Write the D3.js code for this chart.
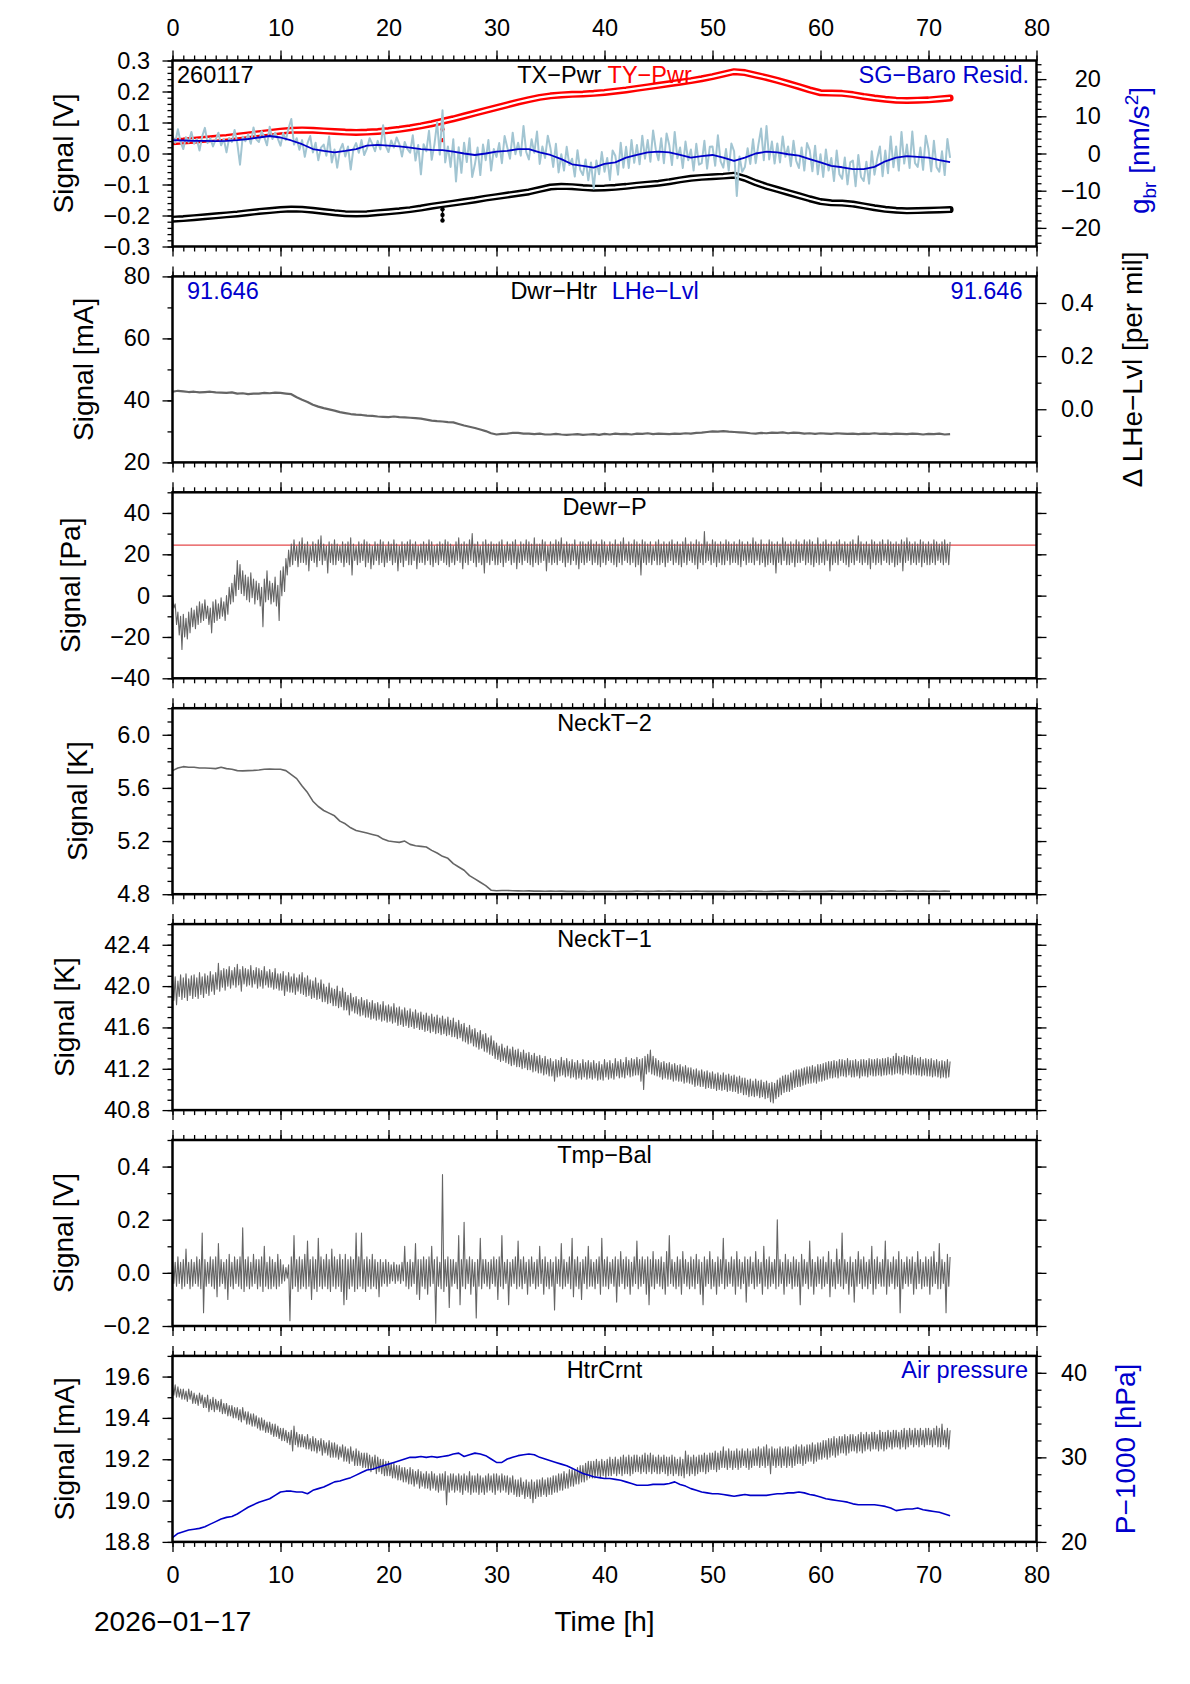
<!DOCTYPE html>
<html><head><meta charset="utf-8">
<script src="https://cdn.jsdelivr.net/npm/d3@7"></script>
<style>
html,body{margin:0;padding:0;background:#fff;}
svg{display:block;font-family:"Liberation Sans",Arial,Helvetica,sans-serif;}
</style></head><body>
<svg id="chart" width="1190" height="1684"></svg>
<script>
// ---------------- DATA ----------------
// time grids (hours): hourly, half-hourly and quarter-hourly samples, 0 .. 72 h
const hours1 = d3.range(0, 72.001, 1);
const hours2 = d3.range(0, 72.001, 0.5);
const hours4 = d3.range(0, 72.001, 0.25);
const xTicks = [0,10,20,30,40,50,60,70,80];

// Panel 1 : TX-Pwr, TY-Pwr [V] (hourly), SG-Baro residual [nm/s^2]
const tyPwr = [0.038,0.040,0.043,0.046,0.049,0.052,0.056,0.060,0.064,0.068,
0.072,0.075,0.076,0.075,0.073,0.071,0.069,0.068,0.069,0.071,
0.074,0.078,0.083,0.089,0.096,0.104,0.112,0.121,0.130,0.139,
0.148,0.157,0.166,0.174,0.181,0.186,0.189,0.191,0.192,0.194,
0.197,0.201,0.205,0.210,0.215,0.220,0.225,0.230,0.235,0.241,
0.248,0.256,0.264,0.261,0.253,0.245,0.236,0.226,0.216,0.205,
0.196,0.195,0.194,0.190,0.184,0.179,0.175,0.172,0.171,0.172,
0.173,0.176,0.179];
const txPwr = [-0.212,-0.210,-0.207,-0.204,-0.201,-0.198,-0.195,-0.191,-0.187,-0.184,
-0.181,-0.179,-0.180,-0.183,-0.187,-0.191,-0.194,-0.195,-0.194,-0.191,
-0.188,-0.185,-0.181,-0.176,-0.170,-0.165,-0.160,-0.155,-0.150,-0.144,
-0.139,-0.134,-0.129,-0.124,-0.116,-0.108,-0.106,-0.107,-0.110,-0.112,
-0.111,-0.109,-0.106,-0.102,-0.099,-0.096,-0.091,-0.085,-0.080,-0.077,
-0.075,-0.073,-0.070,-0.080,-0.094,-0.106,-0.116,-0.126,-0.136,-0.146,
-0.155,-0.159,-0.160,-0.163,-0.169,-0.175,-0.180,-0.183,-0.185,-0.184,
-0.183,-0.182,-0.181];
const tyOutT = [25, 25], tyOutV = [0.078, 0.043];
const txOutT = [25, 25, 25, 25], txOutV = [-0.166, -0.180, -0.198, -0.216];
const sgSmooth = [3.6,3.5,3.4,3.4,3.3,3.4,3.6,3.9,4.3,4.7,
4.3,3.5,2.5,1.2,0.7,0.3,0.7,1.2,2.1,2.3,
2.1,1.9,1.6,1.2,1.0,0.9,0.5,0.0,-0.4,0.0,
0.5,0.7,1.2,1.2,0.3,-0.4,-1.5,-2.9,-3.3,-3.8,
-2.8,-2.4,-1.1,-0.4,0.3,0.5,0.3,-0.4,-1.1,-0.7,
-0.4,-1.1,-2.0,-1.1,0.0,0.5,0.3,-0.2,-0.6,-1.5,
-2.4,-3.3,-3.7,-4.2,-4.2,-3.6,-2.1,-1.1,-0.7,-0.9,
-1.1,-1.8,-2.3];
const sgRaw = [
4.8,2.9,6.5,3.1, 1.2,4.4,3.0,5.8, 2.6,3.9,0.8,4.6, 6.9,2.8,4.1,1.9, 3.7,5.6,2.2,3.9,
0.3,4.2,3.1,6.3, 2.7,-3.0,4.5,3.3, 5.1,2.6,7.0,3.8, 3.1,6.0,4.4,2.2, 7.2,3.9,5.6,4.0,
2.1,5.5,3.6,6.8, 9.3,2.4,4.1,1.0, 3.6,-0.9,2.8,4.7, 0.3,2.9,-1.8,1.6, 2.4,-0.6,4.6,-2.4,
1.1,-3.8,0.9,2.6, -0.8,1.9,-4.3,1.2, 2.8,0.2,3.6,-0.4, 1.3,4.1,2.6,0.6, 3.4,1.1,7.6,2.0,
0.4,3.5,1.6,4.3, 2.6,-0.8,3.1,1.2, 0.2,4.9,-1.9,2.3, -5.6,2.5,0.6,6.1, -1.7,2.4,8.4,-0.3,
11.6,-2.4,1.9,-3.6, 3.8,-7.5,1.7,-5.2, 2.9,-2.3,4.1,-6.3, -2.9,1.6,-5.8,2.4, -1.8,3.6,-4.6,1.2,
-0.9,2.8,-2.6,4.7, 1.6,-1.4,5.6,-0.2, 2.9,-0.6,7.4,0.4, -1.6,3.8,0.2,5.9, -2.8,1.9,-1.2,4.8,
1.4,-3.6,2.6,-5.1, -0.2,-4.6,1.8,-3.1, -1.4,-6.2,0.9,-4.4, -5.8,-1.6,-7.2,-2.4, -9.4,-1.9,-5.6,0.4,
-4.9,-1.2,-7.1,0.8, -0.6,-5.7,2.9,-3.8, 1.8,-3.9,3.6,-2.5, 2.3,-2.9,4.8,-1.4, 3.6,-2.2,6.2,1.1,
-1.8,4.1,-2.6,5.4, 2.2,-3.1,5.8,-1.3, 1.6,-3.9,3.2,-1.8, 1.1,-4.6,2.6,-3.0, -2.6,3.4,-4.1,1.8,
1.9,-3.3,4.9,-2.1, -3.8,1.2,-4.6,2.7, 0.6,-11.4,-0.8,-4.9, -3.6,1.4,-2.8,3.8, -2.6,2.4,6.7,-1.8,
7.4,-1.6,3.2,-2.7, 2.7,-2.4,4.6,-0.9, 1.9,-3.4,3.4,-2.0, -3.9,1.6,-4.6,2.8, 0.9,-4.8,2.1,-5.6,
-0.2,-6.3,1.1,-4.6, -1.2,-7.4,0.8,-5.6, -6.8,-1.1,-8.3,-2.4, -1.9,-8.8,-0.4,-6.3, -7.4,-2.2,-8.1,0.6,
-5.7,-1.4,1.9,-6.1, 0.8,-5.3,4.6,-3.7, 1.9,-4.6,5.8,-2.7, 2.4,-3.9,5.9,-2.6, -3.6,1.6,-4.4,4.8,
1.2,-4.8,3.4,-3.7, -4.9,0.6,-5.8,3.9, -1.2];

// Panel 2 : Dwr-Htr [mA] (half-hourly)
const dwrHtr = [42.8,43.1,42.9,42.7, 42.8,42.6,42.7,42.8, 42.6,42.5,42.4,42.6, 42.2,42.3,42.0,42.2,
42.2,42.4,42.3,42.5, 42.4,42.2,42.0,41.0, 40.2,39.5,38.6,38.0, 37.5,37.1,36.7,36.2,
35.9,35.6,35.4,35.3, 35.1,35.0,34.8,34.7, 34.6,34.8,34.6,34.5, 34.4,34.3,34.1,33.8,
33.5,33.3,33.2,33.0, 32.9,32.4,31.9,31.5, 31.1,30.6,30.1,29.4, 29.0,29.2,29.3,29.5,
29.5,29.3,29.3,29.1, 29.3,29.0,29.0,29.2, 29.0,28.9,29.0,29.1, 28.9,29.0,29.1,28.9,
29.2,29.0,29.3,29.1, 29.2,29.0,29.3,29.2, 29.4,29.1,29.3,29.2, 29.1,29.3,29.2,29.4,
29.3,29.5,29.6,29.8, 30.0,29.9,30.1,29.9, 29.8,29.7,29.6,29.4, 29.3,29.5,29.4,29.6,
29.5,29.7,29.4,29.6, 29.5,29.3,29.4,29.2, 29.4,29.3,29.2,29.4, 29.3,29.2,29.3,29.1,
29.3,29.2,29.4,29.2, 29.3,29.1,29.3,29.2, 29.1,29.3,29.2,29.0, 29.2,29.1,29.3,29.0, 29.1];

// Dense, noisy records are given as upper / lower swing per quarter hour
// (upper value at t, lower value at t + 0.125 h).
// Panel 3 : Dewr-P [Pa] and reference level
const dewrRef = 24.4;
const dewrHi = [
0,-4,-8,-10, -9,-11,-8,-6, -7,-5,-3,-4, -2,-5,-6,-3, -2,-4,-1,-3, 0,4,6,10, 17,15,12,10, 9,11,8,7, 6,4,8,12, 7,6,9,5,
12,14,18,22, 25,27,24,26, 28,25,26,24, 26,25,27,29, 25,24,26,25, 27,25,24,26, 25,26,28,25, 24,26,25,27, 26,25,24,26, 25,27,26,24,
26,25,27,25, 24,26,25,26, 27,25,26,24, 25,26,25,27, 26,24,25,26, 25,27,26,25, 24,26,28,25, 26,25,27,30, 25,26,24,26, 27,25,26,25,
25,26,27,24, 26,25,26,27, 24,26,25,27, 26,25,28,25, 25,27,26,24, 26,25,27,26, 28,25,26,25, 25,27,24,26, 26,25,26,27, 25,26,25,27,
26,24,26,25, 27,25,26,28, 25,26,25,27, 26,25,27,26, 25,26,24,26, 27,25,26,25, 26,27,25,26, 25,26,28,25, 26,25,27,26, 25,31,26,25,
27,26,25,26, 25,27,26,25, 26,25,27,26, 25,26,25,28, 26,25,27,25, 25,27,26,25, 26,25,28,26, 25,26,25,27, 26,25,27,26, 27,26,25,28,
25,26,27,25, 26,25,26,27, 25,26,25,26, 27,25,29,26, 25,26,25,27, 26,25,26,27, 25,27,26,25, 26,25,27,26, 28,26,25,26, 25,27,26,25,
26,25,27,26, 25,26,27,25, 26];
const dewrLo = [
-6,-14,-19,-26, -20,-21,-18,-15, -16,-14,-13,-12, -11,-14,-18,-13, -12,-11,-10,-12, -9,-4,-3,0, 3,1,0,-2, -3,-1,-4,-2, -5,-15,-3,-2, -4,-3,-5,-12,
0,2,10,14, 15,17,14,16, 16,15,12,17, 16,14,17,15, 17,11,16,15, 15,17,16,14, 16,15,10,17, 15,16,17,14, 16,13,15,17, 15,16,14,16,
17,15,16,12, 16,14,17,15, 15,17,13,16, 16,15,17,15, 14,16,15,17, 16,15,14,16, 15,17,16,13, 16,15,17,16, 14,16,15,11, 16,15,17,15,
15,16,14,16, 17,15,16,13, 16,15,17,16, 15,14,16,15, 16,17,12,16, 15,16,15,17, 16,14,16,15, 17,15,13,16, 15,16,17,15, 16,15,14,16,
15,17,16,15, 14,16,15,17, 16,15,16,14, 15,10,16,15, 16,15,17,15, 15,16,14,16, 17,15,16,15, 14,16,15,17, 16,15,13,16, 15,16,17,15,
16,14,16,15, 15,17,15,16, 16,15,14,17, 15,16,16,15, 17,15,16,14, 15,16,15,11, 16,15,17,15, 15,16,14,16, 16,17,15,16, 15,14,16,15,
16,15,17,12, 15,16,15,17, 16,15,14,16, 15,17,16,15, 16,15,13,16, 15,16,15,17, 16,15,16,14, 15,16,12,16, 17,15,16,15, 16,14,16,15,
15,16,15,17, 16,15,16,15];

// Panel 4 : NeckT-2 [K] (half-hourly)
const neckT2 = [5.730,5.750,5.760,5.755, 5.755,5.750,5.750,5.748, 5.745,5.755,5.745,5.740, 5.730,5.728,5.730,5.732,
5.735,5.740,5.742,5.740, 5.740,5.730,5.700,5.670, 5.615,5.565,5.500,5.460, 5.430,5.410,5.390,5.350,
5.330,5.300,5.280,5.270, 5.260,5.250,5.240,5.215, 5.200,5.195,5.190,5.200, 5.175,5.165,5.160,5.155,
5.130,5.110,5.085,5.070, 5.030,5.005,4.980,4.940, 4.915,4.890,4.865,4.830, 4.826,4.828,4.828,4.826,
4.825,4.824,4.825,4.823, 4.824,4.822,4.823,4.822, 4.823,4.821,4.822,4.821, 4.822,4.820,4.821,4.822,
4.821,4.822,4.820,4.821, 4.822,4.821,4.823,4.822, 4.821,4.822,4.824,4.822, 4.823,4.822,4.821,4.822,
4.822,4.823,4.822,4.821, 4.822,4.821,4.822,4.820, 4.821,4.822,4.821,4.823, 4.822,4.821,4.820,4.821,
4.822,4.823,4.822,4.821, 4.820,4.821,4.822,4.821, 4.822,4.821,4.823,4.822, 4.821,4.822,4.821,4.822,
4.823,4.822,4.824,4.822, 4.823,4.825,4.823,4.822, 4.824,4.823,4.822,4.823, 4.822,4.823,4.822,4.823, 4.822];

// Panel 5 : NeckT-1 [K]
const neckHi = [
42.06,42.09,42.05,42.11, 42.08,42.12,42.07,42.10, 42.11,42.08,42.13,42.09, 42.12,42.10,42.14,42.11, 42.13,42.22,42.15,42.17,
42.16,42.19,42.15,42.18, 42.21,42.16,42.19,42.17, 42.16,42.20,42.15,42.18, 42.17,42.15,42.19,42.14, 42.16,42.13,42.17,42.12,
42.12,42.14,42.10,42.13, 42.09,42.12,42.08,42.11, 42.13,42.08,42.10,42.06, 42.05,42.08,42.03,42.06, 42.02,41.99,42.03,41.98,
41.97,42.00,41.95,41.98, 41.94,41.91,41.93,41.89, 41.90,41.87,41.89,41.86, 41.87,41.84,41.86,41.83, 41.84,41.82,41.85,41.81,
41.82,41.80,41.83,41.79, 41.80,41.77,41.79,41.76, 41.78,41.75,41.77,41.74, 41.75,41.72,41.74,41.71, 41.73,41.70,41.72,41.69,
41.71,41.68,41.70,41.67, 41.69,41.65,41.67,41.63, 41.64,41.60,41.62,41.58, 41.59,41.55,41.57,41.53, 41.54,41.50,41.52,41.47,
41.45,41.42,41.44,41.40, 41.42,41.39,41.41,41.38, 41.39,41.36,41.38,41.35, 41.36,41.33,41.35,41.32, 41.33,41.30,41.32,41.29,
41.30,41.27,41.29,41.28, 41.31,41.28,41.30,41.27, 41.29,41.26,41.28,41.25, 41.29,41.26,41.28,41.26, 41.28,41.25,41.27,41.24,
41.29,41.26,41.28,41.25, 41.30,41.27,41.29,41.26, 41.31,41.28,41.30,41.29, 41.31,41.29,41.30,41.32, 41.34,41.38,41.32,41.30,
41.28,41.26,41.27,41.25, 41.26,41.24,41.25,41.23, 41.24,41.22,41.23,41.21, 41.21,41.19,41.20,41.18, 41.19,41.17,41.18,41.16,
41.17,41.15,41.16,41.14, 41.16,41.14,41.15,41.13, 41.14,41.12,41.13,41.11, 41.11,41.09,41.10,41.08, 41.10,41.08,41.09,41.07,
41.08,41.06,41.07,41.06, 41.09,41.11,41.13,41.14, 41.14,41.16,41.18,41.19, 41.19,41.20,41.21,41.22, 41.22,41.23,41.22,41.24,
41.24,41.25,41.26,41.27, 41.27,41.28,41.27,41.29, 41.29,41.28,41.30,41.28, 41.28,41.29,41.27,41.29, 41.29,41.28,41.30,41.29,
41.29,41.30,41.29,41.30, 41.30,41.31,41.30,41.32, 41.35,41.32,41.31,41.33, 41.32,41.31,41.33,41.31, 41.30,41.31,41.29,41.30,
41.29,41.30,41.28,41.29, 41.27,41.28,41.27,41.29, 41.27];
const neckLo = [
41.86,41.82,41.90,41.87, 41.89,41.86,41.91,41.88, 41.90,41.88,41.92,41.89, 41.93,41.91,41.95,41.92, 41.97,41.95,41.99,41.96,
42.00,41.98,42.01,41.99, 42.01,41.95,42.02,42.00, 42.01,41.99,42.02,41.98, 42.00,41.98,42.01,41.99, 41.99,41.97,41.98,41.96,
41.96,41.91,41.95,41.94, 41.94,41.92,41.95,41.93, 41.92,41.90,41.91,41.88, 41.89,41.87,41.88,41.85, 41.85,41.83,41.84,41.81,
41.81,41.79,41.80,41.77, 41.77,41.72,41.76,41.74, 41.73,41.71,41.72,41.70, 41.70,41.68,41.69,41.67, 41.68,41.66,41.67,41.65,
41.66,41.64,41.65,41.62, 41.63,41.61,41.62,41.60, 41.61,41.59,41.60,41.58, 41.58,41.56,41.57,41.55, 41.56,41.54,41.55,41.53,
41.54,41.52,41.53,41.51, 41.51,41.49,41.50,41.47, 41.46,41.44,41.45,41.42, 41.41,41.39,41.40,41.37, 41.36,41.34,41.33,41.30,
41.29,41.27,41.28,41.26, 41.25,41.23,41.24,41.22, 41.22,41.20,41.21,41.19, 41.19,41.17,41.18,41.16, 41.16,41.14,41.15,41.13,
41.13,41.08,41.12,41.13, 41.14,41.12,41.13,41.11, 41.12,41.10,41.11,41.10, 41.12,41.10,41.11,41.10, 41.11,41.09,41.10,41.09,
41.12,41.10,41.11,41.10, 41.13,41.11,41.12,41.11, 41.14,41.12,41.13,41.14, 41.14,41.08,41.00,41.15, 41.17,41.15,41.14,41.13,
41.12,41.10,41.11,41.10, 41.10,41.08,41.09,41.08, 41.08,41.06,41.07,41.06, 41.05,41.03,41.04,41.03, 41.03,41.01,41.02,41.01,
41.01,40.99,41.00,40.99, 41.00,40.98,40.99,40.98, 40.98,40.96,40.97,40.95, 40.95,40.93,40.94,40.93, 40.94,40.92,40.93,40.91,
40.92,40.88,40.87,40.91, 40.93,40.95,40.97,40.98, 40.98,41.00,41.02,41.03, 41.03,41.04,41.05,41.06, 41.06,41.07,41.06,41.08,
41.08,41.09,41.10,41.11, 41.11,41.12,41.11,41.13, 41.13,41.12,41.14,41.12, 41.12,41.13,41.11,41.13, 41.13,41.12,41.14,41.13,
41.13,41.14,41.13,41.14, 41.14,41.15,41.14,41.15, 41.16,41.15,41.14,41.16, 41.15,41.14,41.15,41.14, 41.14,41.13,41.14,41.13,
41.13,41.12,41.13,41.12, 41.11,41.12,41.11,41.12];

// Panel 6 : Tmp-Bal [V]
const tmpHi = [
0.05,0.04,0.06,0.04, 0.05,0.09,0.04,0.05, 0.04,0.06,0.05,0.15, 0.05,0.04,0.06,0.05, 0.06,0.11,0.05,0.04,
0.05,0.07,0.04,0.06, 0.05,0.06,0.17,0.05, 0.06,0.04,0.07,0.05, 0.05,0.06,0.10,0.04, 0.06,0.05,0.04,0.07,
0.05,0.03,0.02,0.03, 0.06,0.14,0.05,0.06, 0.05,0.07,0.12,0.05, 0.06,0.05,0.13,0.06, 0.05,0.07,0.05,0.09,
0.06,0.05,0.07,0.05, 0.07,0.05,0.06,0.05, 0.15,0.06,0.15,0.05, 0.06,0.05,0.07,0.05, 0.04,0.05,0.04,0.05,
0.04,0.03,0.04,0.03, 0.03,0.04,0.10,0.04, 0.05,0.04,0.11,0.05, 0.05,0.06,0.05,0.06, 0.10,0.05,0.06,0.04,
0.37,0.05,0.06,0.05, 0.05,0.04,0.14,0.05, 0.19,0.05,0.06,0.05, 0.04,0.05,0.13,0.05, 0.05,0.04,0.05,0.06,
0.05,0.06,0.14,0.04, 0.05,0.04,0.05,0.06, 0.12,0.05,0.06,0.04, 0.05,0.06,0.04,0.05, 0.10,0.05,0.06,0.04,
0.05,0.04,0.06,0.05, 0.11,0.05,0.04,0.06, 0.13,0.05,0.06,0.04, 0.05,0.06,0.10,0.05, 0.04,0.05,0.06,0.13,
0.05,0.06,0.04,0.05, 0.06,0.05,0.08,0.05, 0.06,0.05,0.04,0.06, 0.12,0.05,0.06,0.05, 0.06,0.05,0.08,0.05,
0.05,0.06,0.04,0.08, 0.14,0.05,0.04,0.06, 0.05,0.08,0.05,0.04, 0.06,0.05,0.07,0.05, 0.04,0.06,0.05,0.08,
0.05,0.04,0.06,0.05, 0.13,0.05,0.04,0.06, 0.05,0.08,0.05,0.04, 0.06,0.05,0.06,0.04, 0.08,0.05,0.04,0.10,
0.05,0.06,0.04,0.05, 0.20,0.05,0.04,0.07, 0.05,0.04,0.06,0.05, 0.04,0.07,0.05,0.04, 0.12,0.05,0.04,0.06,
0.05,0.06,0.04,0.08, 0.05,0.04,0.09,0.05, 0.15,0.05,0.04,0.06, 0.04,0.05,0.08,0.05, 0.06,0.04,0.05,0.10,
0.05,0.06,0.04,0.05, 0.12,0.05,0.04,0.06, 0.05,0.08,0.05,0.04, 0.06,0.05,0.06,0.04, 0.08,0.05,0.04,0.06,
0.05,0.06,0.08,0.04, 0.11,0.05,0.04,0.07, 0.06];
const tmpLo = [
-0.04,-0.05,-0.04,-0.06, -0.05,-0.04,-0.06,-0.05, -0.04,-0.05,-0.06,-0.15, -0.05,-0.04,-0.05,-0.06, -0.09,-0.05,-0.04,-0.06,
-0.10,-0.05,-0.06,-0.04, -0.05,-0.06,-0.07,-0.05, -0.06,-0.05,-0.04,-0.06, -0.05,-0.07,-0.05,-0.06, -0.06,-0.05,-0.06,-0.05,
-0.04,-0.03,-0.02,-0.18, -0.06,-0.05,-0.07,-0.06, -0.05,-0.06,-0.05,-0.10, -0.06,-0.07,-0.05,-0.06, -0.05,-0.06,-0.07,-0.05,
-0.06,-0.05,-0.07,-0.12, -0.10,-0.06,-0.05,-0.07, -0.06,-0.05,-0.06,-0.07, -0.05,-0.06,-0.05,-0.06, -0.09,-0.05,-0.04,-0.05,
-0.04,-0.03,-0.04,-0.03, -0.04,-0.03,-0.05,-0.06, -0.05,-0.04,-0.08,-0.10, -0.05,-0.06,-0.08,-0.05, -0.04,-0.19,-0.05,-0.06,
-0.07,-0.05,-0.13,-0.05, -0.04,-0.06,-0.12,-0.05, -0.06,-0.04,-0.08,-0.05, -0.17,-0.05,-0.06,-0.04, -0.05,-0.06,-0.04,-0.05,
-0.10,-0.05,-0.06,-0.04, -0.12,-0.05,-0.04,-0.06, -0.05,-0.06,-0.04,-0.08, -0.05,-0.04,-0.06,-0.05, -0.04,-0.08,-0.05,-0.06,
-0.05,-0.14,-0.04,-0.05, -0.06,-0.05,-0.04,-0.06, -0.09,-0.05,-0.06,-0.10, -0.04,-0.06,-0.05,-0.05, -0.06,-0.04,-0.08,-0.05,
-0.05,-0.06,-0.04,-0.05, -0.11,-0.05,-0.04,-0.06, -0.05,-0.08,-0.05,-0.04, -0.06,-0.05,-0.04,-0.08, -0.12,-0.05,-0.06,-0.04,
-0.05,-0.06,-0.08,-0.05, -0.04,-0.05,-0.06,-0.05, -0.08,-0.04,-0.05,-0.06, -0.05,-0.06,-0.04,-0.08, -0.12,-0.05,-0.04,-0.06,
-0.05,-0.08,-0.05,-0.04, -0.06,-0.05,-0.04,-0.05, -0.08,-0.05,-0.06,-0.04, -0.11,-0.05,-0.04,-0.06, -0.05,-0.04,-0.08,-0.05,
-0.06,-0.05,-0.04,-0.06, -0.05,-0.04,-0.08,-0.05, -0.04,-0.06,-0.05,-0.05, -0.12,-0.05,-0.04,-0.06, -0.05,-0.08,-0.05,-0.04,
-0.06,-0.05,-0.04,-0.09, -0.05,-0.06,-0.04,-0.05, -0.06,-0.04,-0.08,-0.05, -0.11,-0.05,-0.04,-0.06, -0.05,-0.06,-0.04,-0.08,
-0.06,-0.04,-0.05,-0.05, -0.08,-0.05,-0.04,-0.06, -0.05,-0.15,-0.06,-0.04, -0.05,-0.04,-0.08,-0.06, -0.04,-0.06,-0.05,-0.05,
-0.08,-0.05,-0.04,-0.06, -0.06,-0.04,-0.15,-0.05];

// Panel 7 : HtrCrnt [mA] and air pressure P-1000 [hPa] (half-hourly)
const htrHi = [
19.55,19.56,19.55,19.54, 19.54,19.53,19.54,19.53, 19.52,19.51,19.52,19.51, 19.50,19.51,19.49,19.50, 19.49,19.48,19.49,19.47,
19.47,19.46,19.46,19.45, 19.45,19.44,19.45,19.43, 19.43,19.42,19.42,19.41, 19.40,19.40,19.39,19.38, 19.38,19.37,19.37,19.36,
19.35,19.35,19.34,19.33, 19.34,19.36,19.33,19.32, 19.32,19.31,19.32,19.30, 19.31,19.30,19.29,19.30, 19.29,19.28,19.29,19.28,
19.28,19.27,19.26,19.27, 19.26,19.25,19.26,19.24, 19.25,19.24,19.23,19.23, 19.23,19.22,19.21,19.22, 19.21,19.20,19.20,19.19,
19.19,19.18,19.18,19.17, 19.17,19.16,19.16,19.15, 19.16,19.15,19.14,19.15, 19.14,19.13,19.14,19.13, 19.14,19.13,19.12,19.13,
19.13,19.14,19.12,19.13, 19.13,19.12,19.13,19.12, 19.13,19.12,19.14,19.12, 19.12,19.13,19.12,19.11, 19.12,19.13,19.12,19.13,
19.13,19.12,19.13,19.12, 19.12,19.11,19.12,19.10, 19.10,19.11,19.09,19.10, 19.09,19.10,19.09,19.10, 19.10,19.11,19.10,19.11,
19.11,19.12,19.12,19.13, 19.13,19.14,19.13,19.15, 19.15,19.15,19.16,19.17, 19.17,19.18,19.19,19.19, 19.19,19.20,19.19,19.20,
19.19,19.20,19.21,19.20, 19.21,19.20,19.21,19.22, 19.21,19.22,19.21,19.22, 19.22,19.21,19.22,19.23, 19.22,19.23,19.22,19.21,
19.22,19.21,19.22,19.21, 19.21,19.22,19.21,19.20, 19.21,19.20,19.24,19.22, 19.21,19.22,19.21,19.22, 19.22,19.23,19.22,19.23,
19.23,19.24,19.23,19.24, 19.26,19.24,19.25,19.24, 19.24,19.25,19.24,19.25, 19.24,19.25,19.24,19.25, 19.25,19.26,19.25,19.26,
19.27,19.25,19.26,19.25, 19.25,19.26,19.25,19.26, 19.26,19.25,19.26,19.27, 19.26,19.27,19.26,19.27, 19.27,19.28,19.27,19.28,
19.28,19.29,19.29,19.30, 19.30,19.31,19.30,19.31, 19.31,19.32,19.31,19.32, 19.32,19.31,19.32,19.33, 19.32,19.33,19.32,19.33,
19.33,19.32,19.34,19.33, 19.33,19.34,19.33,19.34, 19.34,19.33,19.34,19.35, 19.34,19.35,19.34,19.35, 19.34,19.35,19.34,19.35,
19.35,19.34,19.35,19.36, 19.35,19.37,19.34,19.35, 19.34];
const htrLo = [
19.51,19.50,19.50,19.49, 19.49,19.48,19.49,19.47, 19.47,19.46,19.47,19.45, 19.45,19.43,19.44,19.43, 19.44,19.43,19.42,19.42,
19.41,19.41,19.40,19.40, 19.39,19.38,19.39,19.37, 19.37,19.36,19.36,19.35, 19.34,19.34,19.33,19.33, 19.32,19.31,19.31,19.30,
19.29,19.29,19.28,19.27, 19.24,19.27,19.26,19.26, 19.26,19.25,19.25,19.24, 19.24,19.23,19.24,19.22, 19.23,19.22,19.21,19.21,
19.21,19.20,19.21,19.19, 19.19,19.18,19.19,19.17, 19.17,19.17,19.16,19.16, 19.15,19.14,19.15,19.13, 19.14,19.13,19.12,19.12,
19.12,19.11,19.11,19.10, 19.10,19.09,19.09,19.08, 19.08,19.07,19.08,19.06, 19.07,19.06,19.06,19.05, 19.06,19.05,19.04,19.05,
19.05,18.98,19.04,19.05, 19.04,19.05,19.04,19.03, 19.05,19.04,19.03,19.04, 19.04,19.03,19.04,19.03, 19.04,19.05,19.04,19.03,
19.05,19.04,19.05,19.04, 19.03,19.04,19.03,19.02, 19.02,19.03,19.01,19.02, 19.01,18.99,19.01,19.02, 19.02,19.03,19.02,19.03,
19.03,19.04,19.04,19.05, 19.05,19.06,19.06,19.07, 19.07,19.08,19.08,19.09, 19.09,19.10,19.11,19.11, 19.11,19.12,19.11,19.12,
19.11,19.12,19.12,19.13, 19.12,19.13,19.12,19.13, 19.13,19.12,19.13,19.14, 19.14,19.13,19.14,19.13, 19.14,19.13,19.14,19.13,
19.13,19.14,19.13,19.12, 19.13,19.12,19.13,19.12, 19.12,19.11,19.13,19.12, 19.13,19.12,19.13,19.14, 19.14,19.13,19.14,19.15,
19.15,19.14,19.15,19.16, 19.16,19.15,19.16,19.15, 19.16,19.15,19.16,19.17, 19.16,19.15,19.16,19.17, 19.17,19.16,19.17,19.16,
19.17,19.13,19.17,19.16, 19.17,19.16,19.17,19.16, 19.17,19.16,19.17,19.18, 19.18,19.17,19.18,19.19, 19.19,19.18,19.19,19.20,
19.20,19.21,19.20,19.21, 19.22,19.21,19.22,19.23, 19.23,19.22,19.23,19.24, 19.24,19.23,19.24,19.23, 19.24,19.25,19.24,19.25,
19.25,19.24,19.25,19.24, 19.25,19.26,19.25,19.26, 19.26,19.25,19.26,19.25, 19.26,19.27,19.26,19.27, 19.26,19.27,19.26,19.27,
19.27,19.26,19.27,19.26, 19.26,19.27,19.26,19.25];
const airP = [20.5,21.0,21.2,21.4, 21.5,21.6,21.8,22.1, 22.4,22.7,22.9,23.0, 23.3,23.7,24.1,24.4,
24.7,24.9,25.1,25.5, 25.9,26.0,26.0,25.9, 25.9,25.7,26.1,26.3, 26.5,26.8,27.1,27.2,
27.4,27.6,27.9,28.2, 28.5,28.6,28.8,29.0, 29.2,29.4,29.6,29.8, 30.0,30.0,30.1,30.0,
30.1,30.0,30.1,30.2, 30.4,30.5,30.1,30.3, 30.5,30.4,30.2,29.8, 29.4,29.4,29.8,30.0,
30.2,30.3,30.4,30.3, 30.0,29.8,29.6,29.4, 29.2,29.0,28.7,28.4, 28.1,27.9,27.7,27.6,
27.5,27.5,27.4,27.3, 27.1,26.9,26.7,26.7, 26.7,26.8,26.8,26.8, 26.9,27.1,26.8,26.6,
26.3,26.1,25.9,25.8, 25.7,25.7,25.6,25.5, 25.4,25.5,25.6,25.5, 25.5,25.5,25.5,25.6,
25.7,25.7,25.8,25.8, 25.9,25.8,25.6,25.5, 25.3,25.1,25.0,24.9, 24.8,24.7,24.5,24.4,
24.4,24.4,24.4,24.3, 24.2,24.0,23.7,23.8, 23.9,23.9,24.0,23.8, 23.7,23.6,23.5,23.3, 23.1];

// tick label lists
const p1Ticks = [-0.3,-0.2,-0.1,0,0.1,0.2,0.3];
const p1RTicks = [-20,-10,0,10,20];
const p2Ticks = [20,40,60,80];
const p2RTicks = [0,0.2,0.4];
const p3Ticks = [-40,-20,0,20,40];
const p4Ticks = [4.8,5.2,5.6,6.0];
const p5Ticks = [40.8,41.2,41.6,42.0,42.4];
const p6Ticks = [-0.2,0,0.2,0.4];
const p7Ticks = [18.8,19.0,19.2,19.4,19.6];
const p7RTicks = [20,30,40];

// ---------------- DRAWING ----------------
const svg = d3.select('#chart');
const L = 172.5, R = 1036.5, PH = 186, PITCH = 215.9, TOP0 = 60.5;
const FT = 23.5, FL = 28;
const GRAY = '#656565', BLUE = '#0000c8', TXTBLUE = '#0000cc';
const x = d3.scaleLinear().domain([0, 80]).range([L, R]);
const pairs = (ts, vs) => vs.map((v, i) => [ts[i], v]);
const swings = (hi, lo) => {
  const out = [];
  hi.forEach((v, i) => {
    out.push([i * 0.25, v]);
    if (i < lo.length && i * 0.25 + 0.125 <= 72) out.push([i * 0.25 + 0.125, lo[i]]);
  });
  return out;
};
const fmt = dec => v => (v < -1e-9 ? '\u2212' : '') + Math.abs(v).toFixed(dec);

function styleAxis(a) {
  a.select('.domain').remove();
  a.attr('font-family', null).attr('font-size', null);
  a.selectAll('line').attr('stroke', '#000').attr('stroke-width', 1.3);
  a.selectAll('text').attr('font-size', FT).attr('fill', '#000');
}

function yAxis(g, y, side, majors, minors, f, labels) {
  const fn = side === 'left' ? d3.axisLeft : d3.axisRight;
  const X0 = side === 'left' ? L : R;
  const gm = g.append('g').attr('transform', `translate(${X0},0)`)
    .call(fn(y).tickValues(minors).tickSize(5).tickFormat(() => ''));
  styleAxis(gm);
  const gM = g.append('g').attr('transform', `translate(${X0},0)`)
    .call(fn(y).tickValues(majors).tickSize(10).tickPadding(side === 'left' ? 12.5 : 14.5)
      .tickFormat(labels ? f : () => ''));
  styleAxis(gM);
  let maxW = 0;
  gM.selectAll('text').each(function () { maxW = Math.max(maxW, this.getComputedTextLength()); });
  if (side === 'right' && labels) gM.selectAll('text').attr('text-anchor', 'end').attr('x', 24.5 + maxW);
  return maxW;
}

function xAxes(g, top, bot, i) {
  [[d3.axisTop, top, i === 0], [d3.axisBottom, bot, i === 6]].forEach(([fn, yy, lab]) => {
    const gm = g.append('g').attr('transform', `translate(0,${yy})`)
      .call(fn(x).tickValues(d3.range(0, 81, 1)).tickSize(5).tickFormat(() => ''));
    styleAxis(gm);
    const gM = g.append('g').attr('transform', `translate(0,${yy})`)
      .call(fn(x).tickValues(xTicks).tickSize(10).tickPadding(14.2).tickFormat(lab ? d => String(d) : () => ''));
    styleAxis(gM);
  });
}

function path(g, y, pts, color, w, cap) {
  return g.append('path').datum(pts)
    .attr('d', d3.line().x(d => x(d[0])).y(d => y(d[1])))
    .attr('fill', 'none').attr('stroke', color).attr('stroke-width', w)
    .attr('stroke-linejoin', 'round').attr('stroke-linecap', cap || 'butt');
}
const line = (g, y, ts, vs, color, w, cap) => path(g, y, pairs(ts, vs), color, w, cap);
function doubleLine(g, y, ts, vs, color) {
  line(g, y, ts, vs, color, 7, 'round');
  line(g, y, ts, vs, '#fff', 2.2, 'butt');
}

const panels = [
  { domain: [-0.3, 0.3], majors: p1Ticks, minors: d3.range(-0.3, 0.3001, 0.02), f: fmt(1), label: 'Signal [V]',
    right: { domain: [-25, 25], majors: p1RTicks, minors: d3.range(-24, 24.1, 2), f: fmt(0) },
    draw(g, y, yR) {
      line(g, y, txOutT, txOutV, '#000', 1.5);
      g.selectAll(null).data(txOutT).enter().append('circle').attr('cx', d => x(d)).attr('cy', (d, i) => y(txOutV[i])).attr('r', 2.2).attr('fill', '#000');
      doubleLine(g, y, hours1, txPwr, '#000');
      g.selectAll(null).data(tyOutT).enter().append('circle').attr('cx', d => x(d)).attr('cy', (d, i) => y(tyOutV[i])).attr('r', 2.2).attr('fill', '#ff0000');
      doubleLine(g, y, hours1, tyPwr, '#ff0000');
      line(g, yR, hours4, sgRaw, '#a2c5d2', 2);
      line(g, yR, hours1, sgSmooth, BLUE, 1.8);
    } },
  { domain: [20, 80], majors: p2Ticks, minors: d3.range(20, 80.1, 10), f: fmt(0), label: 'Signal [mA]',
    right: { domain: [-0.2, 0.5], majors: p2RTicks, minors: [-0.1, 0.1, 0.3], f: fmt(1) },
    draw(g, y) { line(g, y, hours2, dwrHtr, GRAY, 2.2); } },
  { domain: [-40, 50], majors: p3Ticks, minors: d3.range(-40, 50.1, 10), f: fmt(0), label: 'Signal [Pa]',
    draw(g, y) {
      g.append('line').attr('x1', x(0)).attr('x2', x(80)).attr('y1', y(dewrRef)).attr('y2', y(dewrRef))
        .attr('stroke', '#e4484b').attr('stroke-width', 1.2);
      path(g, y, swings(dewrHi, dewrLo), GRAY, 1.1);
    } },
  { domain: [4.8, 6.2], majors: p4Ticks, minors: d3.range(4.8, 6.201, 0.1), f: fmt(1), label: 'Signal [K]',
    draw(g, y) { line(g, y, hours2, neckT2, GRAY, 1.6); } },
  { domain: [40.8, 42.6], majors: p5Ticks, minors: d3.range(40.8, 42.601, 0.1), f: fmt(1), label: 'Signal [K]',
    draw(g, y) { path(g, y, swings(neckHi, neckLo), GRAY, 1.1); } },
  { domain: [-0.2, 0.5], majors: p6Ticks, minors: d3.range(-0.2, 0.501, 0.1), f: fmt(1), label: 'Signal [V]',
    draw(g, y) { path(g, y, swings(tmpHi, tmpLo), GRAY, 1.1); } },
  { domain: [18.8, 19.7], majors: p7Ticks, minors: d3.range(18.8, 19.701, 0.1), f: fmt(1), label: 'Signal [mA]',
    right: { domain: [20, 42], majors: p7RTicks, minors: d3.range(20, 42.1, 2), f: fmt(0) },
    draw(g, y, yR) {
      path(g, y, swings(htrHi, htrLo), GRAY, 1.1);
      line(g, yR, hours2, airP, BLUE, 1.6);
    } }
];

const defs = svg.append('defs');
panels.forEach((p, i) => {
  const top = TOP0 + i * PITCH, bot = top + PH, mid = (top + bot) / 2;
  const y = d3.scaleLinear().domain(p.domain).range([bot, top]);
  const yR = p.right ? d3.scaleLinear().domain(p.right.domain).range([bot, top]) : null;
  const g = svg.append('g');
  defs.append('clipPath').attr('id', 'clip' + i).append('rect')
    .attr('x', L).attr('y', top).attr('width', R - L).attr('height', PH);
  const dg = g.append('g').attr('clip-path', `url(#clip${i})`);
  p.draw(dg, y, yR);

  xAxes(g, top, bot, i);
  const wL = yAxis(g, y, 'left', p.majors, p.minors, p.f, true);
  let wR = 0;
  if (p.right) wR = yAxis(g, yR, 'right', p.right.majors, p.right.minors, p.right.f, true);
  else yAxis(g, y, 'right', p.majors, p.minors, p.f, false);

  g.append('rect').attr('x', L).attr('y', top).attr('width', R - L).attr('height', PH)
    .attr('fill', 'none').attr('stroke', '#000').attr('stroke-width', 2.5);

  const lx = L - 22.5 - wL - 30.5;
  g.append('text').attr('transform', `translate(${lx},${mid}) rotate(-90)`)
    .attr('text-anchor', 'middle').attr('font-size', FL).attr('fill', '#000').text(p.label);

  p.rx = R + 24.5 + wR + 48;
  p.top = top; p.mid = mid;
});

// ---- texts ----
function txt(xp, yp, s, opt = {}) {
  return svg.append('text').attr('x', xp).attr('y', yp).attr('font-size', opt.size || FT)
    .attr('fill', opt.color || '#000').attr('text-anchor', opt.anchor || 'start').text(s);
}
const cx = (L + R) / 2;
const tb = p => p.top + 22.5;

txt(177, tb(panels[0]), '260117');
{
  const t = svg.append('text').attr('x', cx).attr('y', tb(panels[0])).attr('font-size', FT).attr('text-anchor', 'middle');
  t.append('tspan').attr('fill', '#000').text('TX\u2212Pwr');
  t.append('tspan').attr('fill', '#ff0000').text(' TY\u2212Pwr');
}
txt(1029, tb(panels[0]), 'SG\u2212Baro Resid.', { color: TXTBLUE, anchor: 'end' });
{
  const p = panels[0];
  const t = svg.append('text').attr('transform', `translate(${p.rx},${p.mid - 3}) rotate(-90)`)
    .attr('text-anchor', 'middle').attr('font-size', FL).attr('fill', TXTBLUE);
  t.append('tspan').text('g');
  t.append('tspan').attr('font-size', 19).attr('dy', 7).text('br');
  t.append('tspan').attr('dy', -7).text(' [nm/s');
  t.append('tspan').attr('font-size', 19).attr('dy', -11).text('2');
  t.append('tspan').attr('dy', 11).text(']');
}
txt(187, tb(panels[1]), '91.646', { color: TXTBLUE });
txt(1022.5, tb(panels[1]), '91.646', { color: TXTBLUE, anchor: 'end' });
{
  const t = svg.append('text').attr('x', cx).attr('y', tb(panels[1])).attr('font-size', FT).attr('text-anchor', 'middle');
  t.append('tspan').attr('fill', '#000').text('Dwr\u2212Htr');
  t.append('tspan').attr('fill', TXTBLUE).attr('dx', 8).text(' LHe\u2212Lvl');
  const p = panels[1];
  svg.append('text').attr('transform', `translate(${p.rx},${p.mid}) rotate(-90)`)
    .attr('text-anchor', 'middle').attr('font-size', FL).attr('fill', '#000').text('\u0394 LHe\u2212Lvl [per mil]');
}
txt(cx, tb(panels[2]), 'Dewr\u2212P', { anchor: 'middle' });
txt(cx, tb(panels[3]), 'NeckT\u22122', { anchor: 'middle' });
txt(cx, tb(panels[4]), 'NeckT\u22121', { anchor: 'middle' });
txt(cx, tb(panels[5]), 'Tmp\u2212Bal', { anchor: 'middle' });
txt(cx, tb(panels[6]), 'HtrCrnt', { anchor: 'middle' });
txt(1028, tb(panels[6]), 'Air pressure', { color: TXTBLUE, anchor: 'end' });
{
  const p = panels[6];
  svg.append('text').attr('transform', `translate(${p.rx},${p.mid}) rotate(-90)`)
    .attr('text-anchor', 'middle').attr('font-size', FL).attr('fill', TXTBLUE).text('P\u22121000 [hPa]');
}
txt(cx, 1631, 'Time [h]', { size: FL, anchor: 'middle' });
txt(94, 1631, '2026\u221201\u221217', { size: FL });
</script></body></html>
